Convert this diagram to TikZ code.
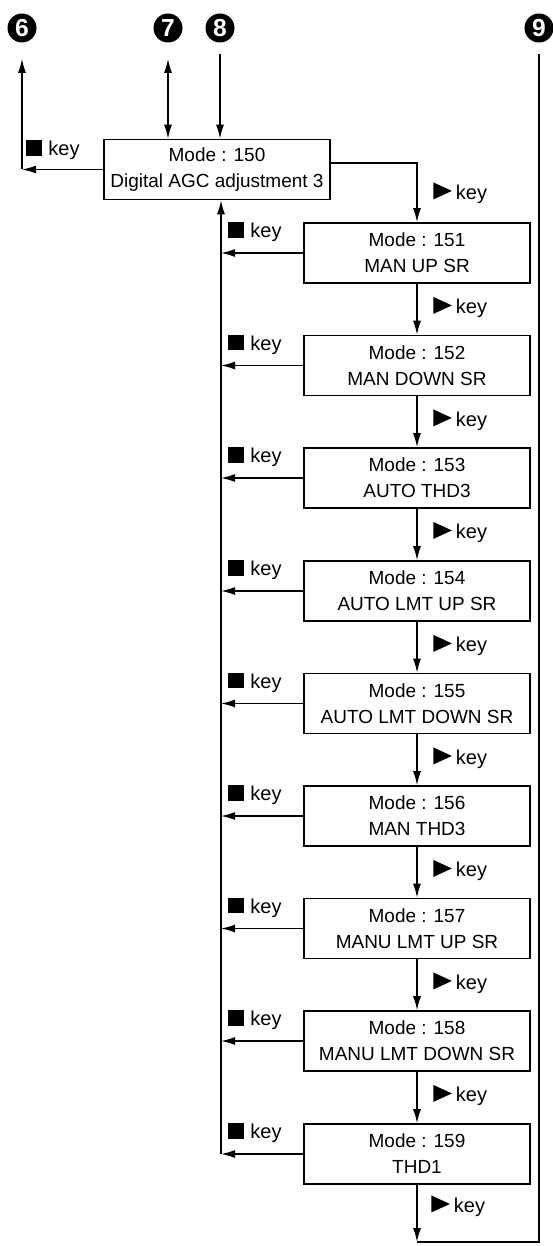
\documentclass[tikz,border=0pt]{standalone}
\usepackage{fontspec}
\setmainfont{Liberation Sans}
\usetikzlibrary{arrows.meta, positioning}
\tikzset{
  >={Latex[length=0.28cm, width=0.16cm]},
  modebox/.style={draw, line width=0.9pt, minimum width=4.52cm, minimum height=1.2cm, inner sep=0pt, align=center, font=\fontsize{10.8}{14.8}\selectfont},
  numbadge/.style={circle, fill=black, text=white, minimum size=0.58cm, inner sep=0pt, font=\fontsize{14}{14}\selectfont\bfseries},
  keylbl/.style={anchor=west, inner sep=0pt, font=\fontsize{11.4}{13}\selectfont},
}
\newcommand{\stopkey}{\rule{0.31cm}{0.31cm}\hspace{0.13cm}key}
\newcommand{\playkey}{\tikz\fill (0,0) -- (0.37,0.17) -- (0,0.34) -- cycle;\hspace{0.08cm}key}

\begin{document}
\begin{tikzpicture}
\useasboundingbox (0,0) rectangle (11.06,-24.92);

\node[numbadge] (n6) at (0.44,-0.56) {6};
\node[numbadge] (n7) at (3.36,-0.56) {7};
\node[numbadge] (n8) at (4.40,-0.56) {8};
\node[numbadge] (n9) at (10.78,-0.56) {9};

\node[modebox] (m150) at (4.34,-3.39) {Mode : 150\\Digital AGC adjustment 3};
\node[modebox] (m151) at (8.34,-5.06) {Mode : 151\\MAN UP SR};
\node[modebox] (m152) at (8.34,-7.31) {Mode : 152\\MAN DOWN SR};
\node[modebox] (m153) at (8.34,-9.56) {Mode : 153\\AUTO THD3};
\node[modebox] (m154) at (8.34,-11.82) {Mode : 154\\AUTO LMT UP SR};
\node[modebox] (m155) at (8.34,-14.07) {Mode : 155\\AUTO LMT DOWN SR};
\node[modebox] (m156) at (8.34,-16.32) {Mode : 156\\MAN THD3};
\node[modebox] (m157) at (8.34,-18.57) {Mode : 157\\MANU LMT UP SR};
\node[modebox] (m158) at (8.34,-20.82) {Mode : 158\\MANU LMT DOWN SR};
\node[modebox] (m159) at (8.34,-23.08) {Mode : 159\\THD1};

\coordinate (lret) at (4.42,-3.39);
\coordinate (bot) at (0,-24.84);

% keys going back
\node[keylbl] (s150) at (0.52,-3.00) {\stopkey};
\node[keylbl] (s151) at (4.56,-4.64) {\stopkey};
\node[keylbl] (s152) at (4.56,-6.89) {\stopkey};
\node[keylbl] (s153) at (4.56,-9.14) {\stopkey};
\node[keylbl] (s154) at (4.56,-11.40) {\stopkey};
\node[keylbl] (s155) at (4.56,-13.65) {\stopkey};
\node[keylbl] (s156) at (4.56,-15.90) {\stopkey};
\node[keylbl] (s157) at (4.56,-18.15) {\stopkey};
\node[keylbl] (s158) at (4.56,-20.40) {\stopkey};
\node[keylbl] (s159) at (4.56,-22.66) {\stopkey};

% keys going on
\node[keylbl] (p150) at (8.66,-3.86) {\playkey};
\node[keylbl] (p151) at (8.66,-6.15) {\playkey};
\node[keylbl] (p152) at (8.66,-8.40) {\playkey};
\node[keylbl] (p153) at (8.66,-10.65) {\playkey};
\node[keylbl] (p154) at (8.66,-12.91) {\playkey};
\node[keylbl] (p155) at (8.66,-15.16) {\playkey};
\node[keylbl] (p156) at (8.66,-17.41) {\playkey};
\node[keylbl] (p157) at (8.66,-19.66) {\playkey};
\node[keylbl] (p158) at (8.66,-21.91) {\playkey};
\node[keylbl] (p159) at (8.62,-24.12) {\playkey};

\draw[thick, ->] (m150.west) -- (m150.west -| n6);
\draw[thick, ->, shorten >=0.32cm] (m150.west -| n6) -- (n6);
\draw[thick, <->, shorten <=0.32cm] (n7) -- (n7 |- m150.north);
\draw[thick, ->, shorten <=0.22cm] (n8) -- (n8 |- m150.north);
\draw[thick, ->] ([yshift=0.13cm]m150.east) -| (m151);

\draw[thick, ->] (m151) -- (m152);
\draw[thick, ->] (m152) -- (m153);
\draw[thick, ->] (m153) -- (m154);
\draw[thick, ->] (m154) -- (m155);
\draw[thick, ->] (m155) -- (m156);
\draw[thick, ->] (m156) -- (m157);
\draw[thick, ->] (m157) -- (m158);
\draw[thick, ->] (m158) -- (m159);
\draw[thick, ->] (m159) -- (m159 |- bot);
\draw[thick, shorten <=0.22cm] (n9) -- (n9 |- bot) -- (m159 |- bot);

\draw[thick, ->] (m151.west) -- (m151.west -| lret);
\draw[thick, ->] (m152.west) -- (m152.west -| lret);
\draw[thick, ->] (m153.west) -- (m153.west -| lret);
\draw[thick, ->] (m154.west) -- (m154.west -| lret);
\draw[thick, ->] (m155.west) -- (m155.west -| lret);
\draw[thick, ->] (m156.west) -- (m156.west -| lret);
\draw[thick, ->] (m157.west) -- (m157.west -| lret);
\draw[thick, ->] (m158.west) -- (m158.west -| lret);
\draw[thick, ->] (m159.west) -- (m159.west -| lret);
\draw[thick, ->] (m159.west -| lret) -- (lret |- m150.south);
\end{tikzpicture}
\end{document}
